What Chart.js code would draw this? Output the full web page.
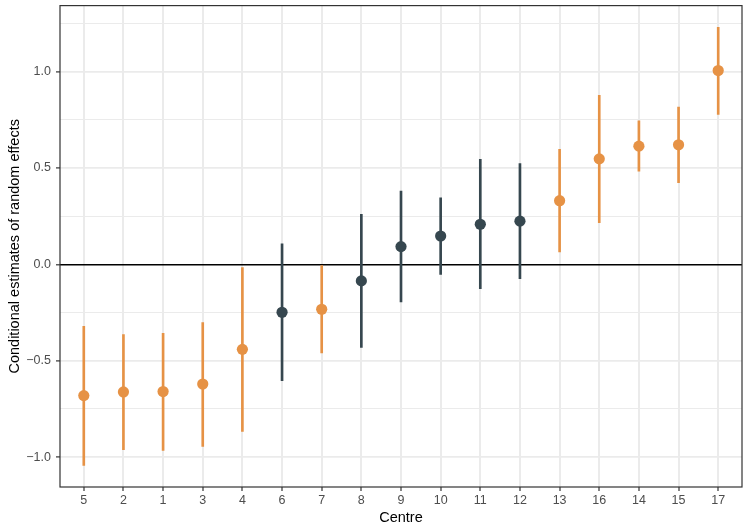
<!DOCTYPE html>
<html>
<head>
<meta charset="utf-8">
<script src="https://cdn.jsdelivr.net/npm/chart.js@4"></script>
<style>
  body { margin: 0; background: #fff; }
  #wrap { width: 751px; height: 528px; }
</style>
</head>
<body>
<div id="wrap"><canvas id="chart"></canvas></div>
<script>
// centres in plotted order
const centres = ['5', '2', '1', '3', '4', '6', '7', '8', '9', '10', '11', '12', '13', '16', '14', '15', '17'];
const estimate = [-0.681, -0.662, -0.660, -0.621, -0.441, -0.249, -0.233, -0.086, 0.092, 0.147, 0.208, 0.224, 0.330, 0.547, 0.613, 0.620, 1.005];
const lower = [-1.043, -0.962, -0.965, -0.945, -0.867, -0.604, -0.460, -0.431, -0.195, -0.053, -0.126, -0.074, 0.064, 0.216, 0.483, 0.423, 0.778];
const upper = [-0.322, -0.365, -0.358, -0.302, -0.017, 0.106, -0.007, 0.259, 0.380, 0.345, 0.544, 0.523, 0.596, 0.877, 0.744, 0.816, 1.229];
const yTicks = [-1, -0.75, -0.5, -0.25, 0, 0.25, 0.5, 0.75, 1, 1.25];

const orange = '#E69245';
const dark = '#36474F';
// orange when the interval does not cross zero
const colours = centres.map((c, i) => (upper[i] < 0 || lower[i] > 0) ? orange : dark);

const borderPlugin = {
    id: 'panelBorder',
    afterDraw(chart) {
        const a = chart.chartArea;
        const ctx = chart.ctx;
        ctx.save();
        ctx.strokeStyle = '#333333';
        ctx.lineWidth = 1.2;
        ctx.strokeRect(a.left, a.top, a.right - a.left, a.bottom - a.top);
        ctx.restore();
    }
};

const font = "'Liberation Sans', Arial, sans-serif";
const isMajor = v => Math.abs(v * 2 - Math.round(v * 2)) < 1e-6;

new Chart(document.getElementById('chart'), {
    data: {
        datasets: [{
            type: 'scatter',
            order: 0,
            data: centres.map((c, i) => ({ x: i, y: estimate[i] })),
            pointRadius: 5.6,
            pointHoverRadius: 5.6,
            pointBackgroundColor: colours,
            pointBorderColor: colours,
            pointBorderWidth: 0
        }, {
            type: 'bar',
            order: 1,
            data: centres.map((c, i) => ({ x: i, y: [lower[i], upper[i]] })),
            backgroundColor: colours,
            borderWidth: 0,
            barThickness: 2,
            grouped: false
        }]
    },
    options: {
        responsive: true,
        maintainAspectRatio: false,
        animation: false,
        layout: { padding: { top: 5, right: 9, left: 0, bottom: 0 } },
        plugins: {
            legend: { display: false },
            tooltip: { enabled: false }
        },
        scales: {
            x: {
                type: 'linear',
                min: -0.6,
                max: 16.6,
                offset: false,
                afterBuildTicks: scale => {
                    scale.ticks = centres.map((c, i) => ({ value: i }));
                },
                afterFit: scale => { scale.height = 41; },
                ticks: {
                    callback: v => centres[v],
                    color: '#4D4D4D',
                    font: { family: font, size: 12.5 },
                    padding: 2,
                    maxRotation: 0,
                    autoSkip: false
                },
                grid: {
                    offset: false,
                    color: '#EBEBEB',
                    lineWidth: 2,
                    tickColor: '#333333',
                    tickLength: 4,
                    tickWidth: 1.2
                },
                border: { display: false },
                title: {
                    display: true,
                    text: 'Centre',
                    color: '#000000',
                    font: { family: font, size: 14.5 },
                    padding: { top: 0, bottom: 1 }
                }
            },
            y: {
                min: -1.155,
                max: 1.342,
                afterBuildTicks: scale => {
                    scale.ticks = yTicks.map(v => ({ value: v }));
                },
                afterFit: scale => {
                    scale.width = 60;
                    scale.paddingTop = 0;
                    scale.paddingBottom = 0;
                },
                ticks: {
                    callback: v => isMajor(v) ? v.toFixed(1).replace('-', '\u2212') : '',
                    color: '#4D4D4D',
                    font: { family: font, size: 12.5 },
                    padding: 5
                },
                grid: {
                    color: ctx => ctx.tick.value === 0 ? '#000000' : '#EBEBEB',
                    lineWidth: ctx => {
                        const v = ctx.tick.value;
                        if (v === 0) return 1.6;
                        return isMajor(v) ? 1.8 : 1;
                    },
                    tickColor: ctx => isMajor(ctx.tick.value) ? '#333333' : 'rgba(0,0,0,0)',
                    tickLength: 4,
                    tickWidth: 1.2
                },
                border: { display: false },
                title: {
                    display: true,
                    text: 'Conditional estimates of random effects',
                    color: '#000000',
                    font: { family: font, size: 14.5 },
                    padding: { top: 6, bottom: 0 }
                }
            }
        }
    },
    plugins: [borderPlugin]
});
</script>
</body>
</html>
